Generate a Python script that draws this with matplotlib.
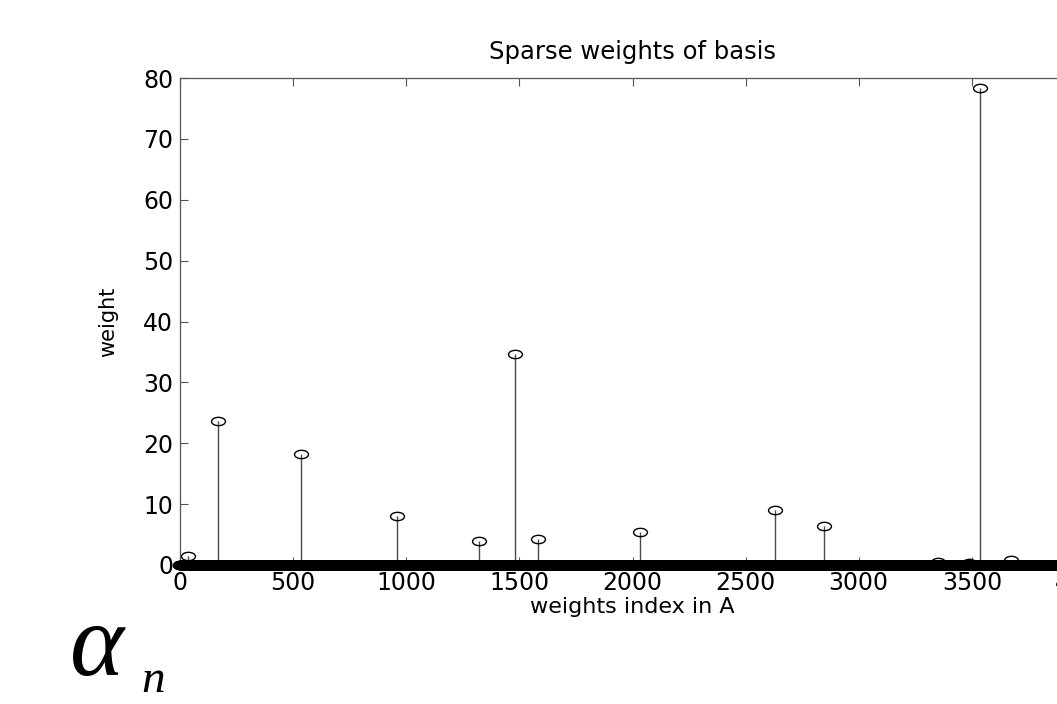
"""Stem plot of the sparse basis weights."""

import matplotlib

matplotlib.use("Agg")

import matplotlib.pyplot as plt
import numpy as np
from matplotlib.path import Path
from matplotlib.transforms import Affine2D

# Number of basis vectors in A, and the few nonzero weights
n_basis = 4000
nonzero_index = [34, 166, 537, 961, 1323, 1480, 1582, 2034, 2630, 2847, 3352, 3489, 3534, 3671]
nonzero_weight = [1.5, 23.7, 18.2, 8.1, 3.9, 34.7, 4.2, 5.5, 9.1, 6.4, 0.5, 0.4, 78.3, 0.9]

x_ticks = [0, 500, 1000, 1500, 2000, 2500, 3000, 3500, 4000]
y_ticks = [0, 10, 20, 30, 40, 50, 60, 70, 80]

W, H = 1057, 704
FONT = "DejaVu Sans"


def build_weights() -> np.ndarray:
    """Sparse weight vector, zero everywhere except the listed entries."""
    weights = np.zeros(n_basis)
    weights[nonzero_index] = nonzero_weight
    return weights


def plot_sparse_weights(save_path: str = "out.png") -> None:
    weights = build_weights()
    index = np.arange(n_basis)
    is_zero = weights == 0

    fig = plt.figure(figsize=(W / 100, H / 100), dpi=100)
    # axes run past the right edge of the picture, like the cropped original
    ax = fig.add_axes([180 / W, 139 / H, 905 / W, 487 / H])

    # flattened circle marker (the original image is stretched sideways)
    ellipse = Path.unit_circle().transformed(Affine2D().scale(1.0, 0.6))
    marker_style = dict(
        linestyle="none",
        marker=ellipse,
        markersize=10,
        markeredgecolor="black",
        markeredgewidth=1.0,
        clip_on=False,
        zorder=3,
    )

    ax.vlines(index[~is_zero], 0, weights[~is_zero], color="#4a4a4a", lw=1.0, zorder=3)
    # thousands of overlapping circles at zero merge into one solid band
    ax.plot(index[is_zero], weights[is_zero], markerfacecolor="black", **marker_style)
    ax.plot(index[~is_zero], weights[~is_zero], markerfacecolor="none", **marker_style)

    ax.set_xlim(0, 4000)
    ax.set_ylim(0, 80)
    ax.set_xticks(x_ticks)
    ax.set_yticks(y_ticks)
    ax.set_xticklabels([str(t) for t in x_ticks], fontsize=17, family=FONT)
    ax.set_yticklabels([str(t) for t in y_ticks], fontsize=17, family=FONT)
    ax.tick_params(
        direction="in", length=6, width=0.8, color="#555555",
        top=True, right=True,
    )
    ax.tick_params(axis="x", pad=4)
    ax.tick_params(axis="y", pad=5)
    for spine in ax.spines.values():
        spine.set_color("#555555")
        spine.set_linewidth(0.9)

    ax.set_title("Sparse weights of basis", fontsize=17.5, family=FONT, pad=14)
    ax.set_xlabel("weights index in A", fontsize=16, family=FONT)
    ax.xaxis.label.set_va("baseline")
    ax.xaxis.set_label_coords(0.5, -48 / 487)
    ax.set_ylabel("weight", fontsize=15, family=FONT)
    ax.yaxis.label.set_va("center")
    ax.yaxis.set_label_coords(-72 / 905, 0.5)

    # alpha_n annotation below the axes
    fig.text(70 / W, 1 - 675 / H, "\u03b1", fontsize=74, family="Liberation Serif",
             style="italic", ha="left", va="baseline")
    fig.text(141 / W, 1 - 692 / H, "n", fontsize=34, family="Liberation Serif",
             style="italic", ha="left", va="baseline")

    fig.savefig(save_path, dpi=100)
    plt.close(fig)


if __name__ == "__main__":
    plot_sparse_weights()
